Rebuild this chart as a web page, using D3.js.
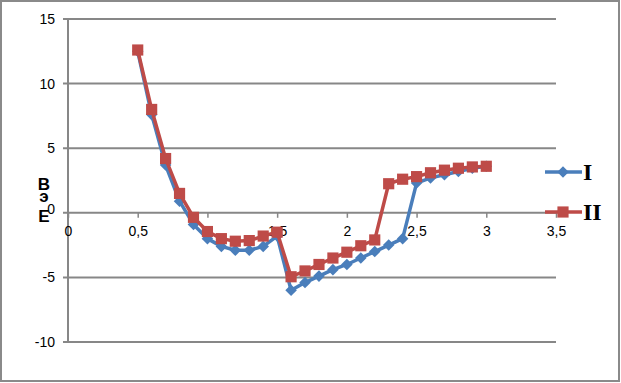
<!DOCTYPE html>
<html><head><meta charset="utf-8">
<script src="https://cdn.jsdelivr.net/npm/d3@7"></script>
<style>body{margin:0;background:#fff}svg{display:block}</style>
</head><body><svg id="c" width="621" height="383"></svg>
<script>
const xValues = [0.5,0.6,0.7,0.8,0.9,1.0,1.1,1.2,1.3,1.4,1.5,1.6,1.7,1.8,1.9,2.0,2.1,2.2,2.3,2.4,2.5,2.6,2.7,2.8,2.9,3.0];
const seriesI  = [12.5,7.6,3.7,0.9,-0.9,-2.0,-2.6,-2.9,-2.9,-2.6,-1.8,-6.0,-5.4,-4.9,-4.4,-4.0,-3.5,-3.0,-2.5,-2.0,2.3,2.7,2.95,3.2,3.45,3.6];
const seriesII = [12.6,8.0,4.2,1.5,-0.35,-1.45,-2.0,-2.2,-2.15,-1.8,-1.5,-4.95,-4.5,-4.0,-3.5,-3.05,-2.55,-2.1,2.25,2.6,2.8,3.1,3.3,3.45,3.55,3.6];
const xTicks = [0,0.5,1,1.5,2,2.5,3,3.5];
const yTicks = [15,10,5,0,-5,-10];
const seriesNames = ["I","II"];
const yTitle = ["В","э","Е"];

const svg = d3.select("#c");
const x = d3.scaleLinear().domain([0,3.5]).range([68,556]);
const y = d3.scaleLinear().domain([-10,15]).range([342,19]);
const gray = "#878787";
const fmt = v => String(v).replace(".", ",");

// border
svg.append("rect").attr("x",1).attr("y",1).attr("width",618).attr("height",380)
  .attr("fill","#fff").attr("stroke","#8a8a8a").attr("stroke-width",2);

// gridlines (non-zero)
svg.append("g").selectAll("line").data(yTicks.filter(d=>d!==0)).join("line")
  .attr("x1",63).attr("x2",556).attr("y1",d=>y(d)).attr("y2",d=>y(d))
  .attr("stroke",gray).attr("stroke-width",2);

// y axis line
svg.append("line").attr("x1",x(0)).attr("x2",x(0)).attr("y1",y(15)).attr("y2",y(-10))
  .attr("stroke",gray).attr("stroke-width",2);

// x axis at y=0
const xa = svg.append("g").attr("transform",`translate(0,${y(0)})`)
  .call(d3.axisBottom(x).tickValues(xTicks).tickSize(5).tickSizeOuter(0).tickFormat(fmt));
xa.select(".domain").attr("stroke",gray).attr("stroke-width",2).attr("d",`M63,0H556`);
xa.selectAll(".tick line").attr("stroke",gray).attr("stroke-width",1.5);
xa.selectAll(".tick text").attr("font-family","Liberation Sans, Arial, sans-serif")
  .attr("font-size",14).attr("fill","#000").attr("y",13).attr("dy","0.71em");

// y tick labels
svg.append("g").selectAll("text").data(yTicks).join("text")
  .attr("x",55).attr("y",d=>y(d)).attr("dy",d=>d===0?"0.1em":"0.35em").attr("text-anchor","end")
  .attr("font-family","Liberation Sans, Arial, sans-serif").attr("font-size",14)
  .attr("fill","#000").text(d=>fmt(d));

// y title (stacked)
const titleY = [190,202,222];
svg.append("g").selectAll("text").data(yTitle).join("text")
  .attr("x",44).attr("y",(d,i)=>titleY[i]).attr("text-anchor","middle")
  .attr("font-family","Liberation Sans, Arial, sans-serif").attr("font-weight","bold")
  .attr("font-size",17).attr("fill","#000").text(d=>d);

const colors = ["#4A7EBB","#BE4B48"];
const diamond = d3.symbol().type(d3.symbolDiamond2).size(85);
const square = d3.symbol().type(d3.symbolSquare).size(125);
const line = d3.line().x(d=>x(d[0])).y(d=>y(d[1]));

[seriesI, seriesII].forEach((s,i)=>{
  const pts = xValues.map((xv,j)=>[xv,s[j]]);
  svg.append("path").attr("d",line(pts)).attr("fill","none")
    .attr("stroke",colors[i]).attr("stroke-width",3.5).attr("stroke-linejoin","round");
  svg.append("g").selectAll("path").data(pts).join("path")
    .attr("transform",d=>`translate(${x(d[0])},${y(d[1])})`)
    .attr("d", i===0 ? diamond() : square()).attr("fill",colors[i]);
});

// legend
const legY = [172,212];
seriesNames.forEach((n,i)=>{
  const g = svg.append("g");
  g.append("line").attr("x1",545).attr("x2",582).attr("y1",legY[i]).attr("y2",legY[i])
    .attr("stroke",colors[i]).attr("stroke-width",3.5);
  g.append("path").attr("transform",`translate(563,${legY[i]})`)
    .attr("d", i===0 ? diamond() : square()).attr("fill",colors[i]);
  g.append("text").attr("x",583).attr("y",legY[i]).attr("dy","0.35em")
    .attr("font-family","Liberation Serif, Times New Roman, serif").attr("font-weight","bold")
    .attr("font-size",24).attr("fill","#000").text(n);
});
</script></body></html>
